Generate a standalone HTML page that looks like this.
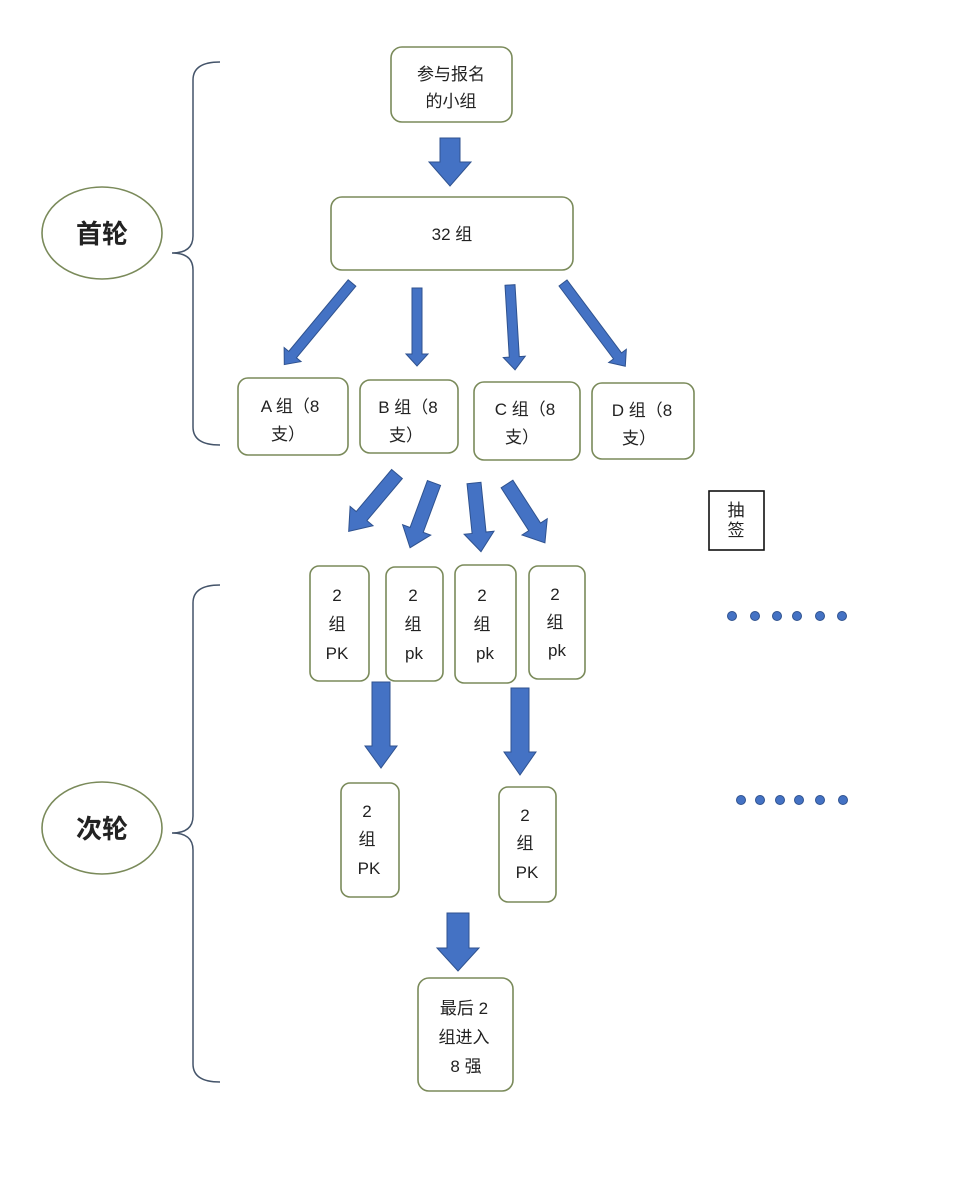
<!DOCTYPE html>
<html><head><meta charset="utf-8"><style>
html,body{margin:0;padding:0;background:#fff}
svg{display:block}
text{font-family:"Liberation Sans","Noto Sans CJK SC",sans-serif;fill:#222;font-size:17px;text-anchor:middle}
.b{fill:#fff;stroke:#7a8a5a;stroke-width:1.6}
.a{fill:#4472c4;stroke:#2f528f;stroke-width:1}
</style></head><body>
<svg width="956" height="1203" viewBox="0 0 956 1203" xmlns="http://www.w3.org/2000/svg">
<!-- braces -->
<path d="M220,62 Q193,62 193,80 L193,236 Q193,253 172,253 Q193,253 193,270 L193,427 Q193,445 220,445" fill="none" stroke="#44546a" stroke-width="1.5"/>
<path d="M220,585 Q193,585 193,603 L193,816 Q193,833 172,833 Q193,833 193,850 L193,1064 Q193,1082 220,1082" fill="none" stroke="#44546a" stroke-width="1.5"/>
<!-- ellipses -->
<ellipse cx="102" cy="233" rx="60" ry="46" fill="#fff" stroke="#7a8a5a" stroke-width="1.6"/>
<text x="102" y="243" style="font-size:26px;font-weight:bold">首轮</text>
<ellipse cx="102" cy="828" rx="60" ry="46" fill="#fff" stroke="#7a8a5a" stroke-width="1.6"/>
<text x="102" y="838" style="font-size:26px;font-weight:bold">次轮</text>
<!-- top boxes -->
<rect class="b" x="391" y="47" width="121" height="75" rx="11"/>
<text x="451" y="80">参与报名</text><text x="451" y="107">的小组</text>
<rect class="b" x="331" y="197" width="242" height="73" rx="11"/>
<text x="452" y="240">32 组</text>
<rect class="b" x="238" y="378" width="110" height="77" rx="10"/>
<text x="290" y="412">A 组（8</text><text x="288" y="440">支）</text>
<rect class="b" x="360" y="380" width="98" height="73" rx="10"/>
<text x="408" y="413">B 组（8</text><text x="406" y="441">支）</text>
<rect class="b" x="474" y="382" width="106" height="78" rx="10"/>
<text x="525" y="415">C 组（8</text><text x="522" y="443">支）</text>
<rect class="b" x="592" y="383" width="102" height="76" rx="10"/>
<text x="642" y="416">D 组（8</text><text x="639" y="444">支）</text>
<!-- 抽签 -->
<rect x="709" y="491" width="55" height="59" fill="#fff" stroke="#111" stroke-width="1.6"/>
<text x="736" y="516">抽</text><text x="736" y="536">签</text>
<!-- PK boxes -->
<rect class="b" x="310" y="566" width="59" height="115" rx="9"/>
<text x="337" y="601">2</text><text x="337" y="630">组</text><text x="337" y="659">PK</text>
<rect class="b" x="386" y="567" width="57" height="114" rx="9"/>
<text x="413" y="601">2</text><text x="413" y="630">组</text><text x="414" y="659">pk</text>
<rect class="b" x="455" y="565" width="61" height="118" rx="9"/>
<text x="482" y="601">2</text><text x="482" y="630">组</text><text x="485" y="659">pk</text>
<rect class="b" x="529" y="566" width="56" height="113" rx="9"/>
<text x="555" y="600">2</text><text x="555" y="628">组</text><text x="557" y="656">pk</text>
<rect class="b" x="341" y="783" width="58" height="114" rx="9"/>
<text x="367" y="817">2</text><text x="367" y="845">组</text><text x="369" y="874">PK</text>
<rect class="b" x="499" y="787" width="57" height="115" rx="9"/>
<text x="525" y="821">2</text><text x="525" y="849">组</text><text x="527" y="878">PK</text>
<rect class="b" x="418" y="978" width="95" height="113" rx="11"/>
<text x="464" y="1014">最后 2</text><text x="464" y="1043">组进入</text><text x="466" y="1072">8 强</text>
<!-- dots -->
<g fill="#4472c4" stroke="#2f528f" stroke-width="1">
<circle cx="732" cy="616" r="4.5"/><circle cx="755" cy="616" r="4.5"/><circle cx="777" cy="616" r="4.5"/><circle cx="797" cy="616" r="4.5"/><circle cx="820" cy="616" r="4.5"/><circle cx="842" cy="616" r="4.5"/><circle cx="853" cy="616" r="0"/>
<circle cx="741" cy="800" r="4.5"/><circle cx="760" cy="800" r="4.5"/><circle cx="780" cy="800" r="4.5"/><circle cx="799" cy="800" r="4.5"/><circle cx="820" cy="800" r="4.5"/><circle cx="843" cy="800" r="4.5"/>
</g>
<!-- arrows: local +y direction, points: -s,0 s,0 s,L-hl h,L-hl 0,L -h,L-hl -s,L-hl -->
<g transform="translate(450,138)"><polygon class="a" points="-10,0 10,0 10,24 21,24 0,48 -21,24 -10,24"/></g>
<g transform="translate(352,283) rotate(39.7)"><polygon class="a" points="-5,0 5,0 5,93 11,93 0,106 -11,93 -5,93"/></g>
<g transform="translate(417,288)"><polygon class="a" points="-5,0 5,0 5,66 11,66 0,78 -11,66 -5,66"/></g>
<g transform="translate(510,285) rotate(-3.4)"><polygon class="a" points="-5,0 5,0 5,72 11,72 0,85 -11,72 -5,72"/></g>
<g transform="translate(563,283) rotate(-36.8)"><polygon class="a" points="-5,0 5,0 5,91 11,91 0,104 -11,91 -5,91"/></g>
<g transform="translate(397,474) rotate(40.1)"><polygon class="a" points="-7,0 7,0 7,55 15,55 0,75 -15,55 -7,55"/></g>
<g transform="translate(434,483) rotate(20.3)"><polygon class="a" points="-7,0 7,0 7,50 15,50 0,69 -15,50 -7,50"/></g>
<g transform="translate(474,483) rotate(-5.8)"><polygon class="a" points="-7,0 7,0 7,50 15,50 0,69 -15,50 -7,50"/></g>
<g transform="translate(507,484) rotate(-32.8)"><polygon class="a" points="-7,0 7,0 7,51 15,51 0,70 -15,51 -7,51"/></g>
<g transform="translate(381,682)"><polygon class="a" points="-9,0 9,0 9,64 16,64 0,86 -16,64 -9,64"/></g>
<g transform="translate(520,688)"><polygon class="a" points="-9,0 9,0 9,64 16,64 0,87 -16,64 -9,64"/></g>
<g transform="translate(458,913)"><polygon class="a" points="-11,0 11,0 11,35 21,35 0,58 -21,35 -11,35"/></g>
</svg>
</body></html>
